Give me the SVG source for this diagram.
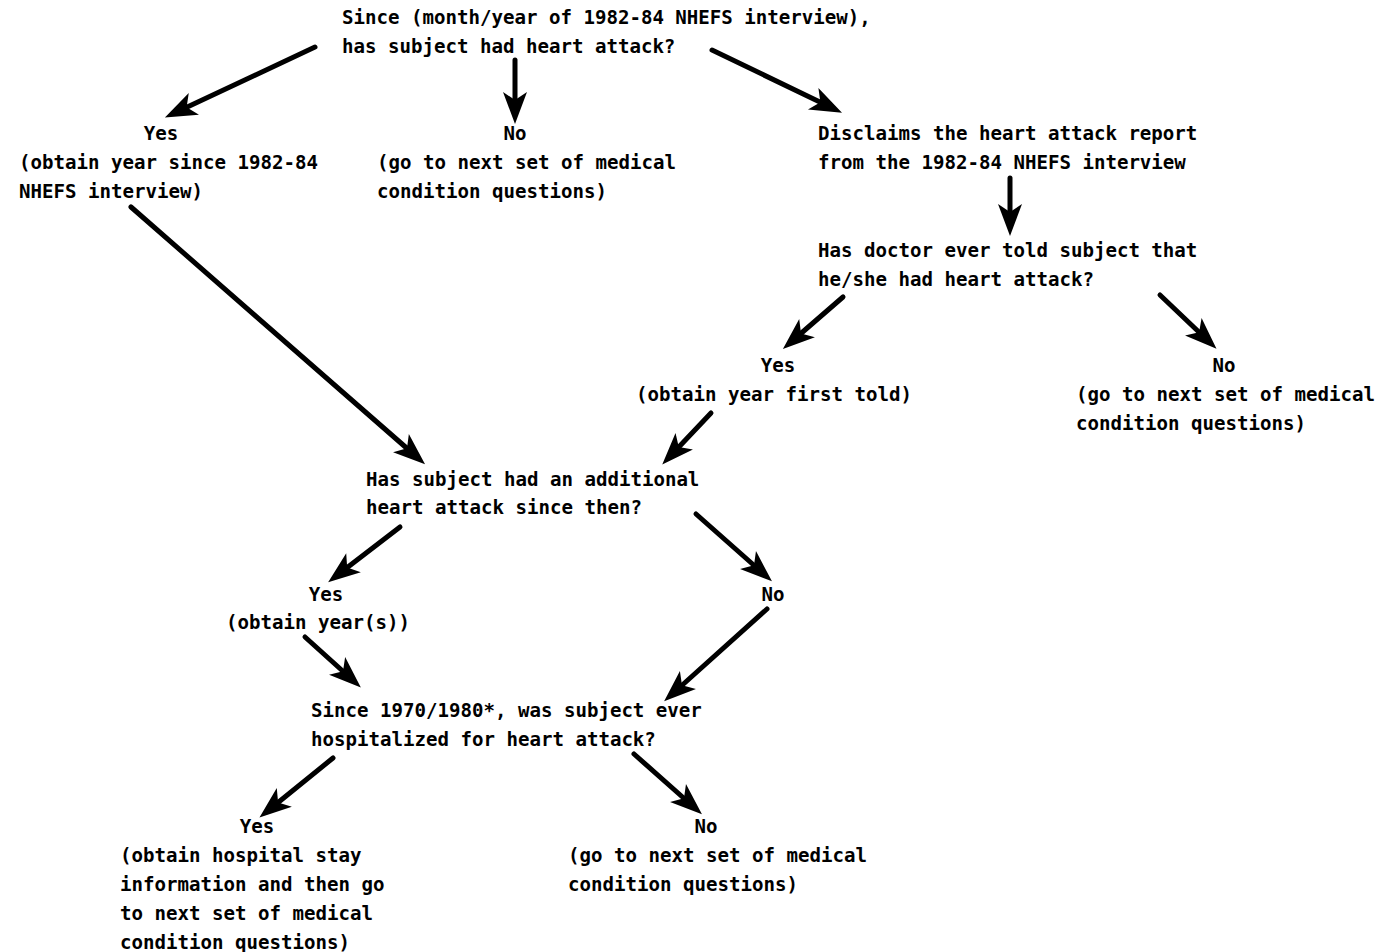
<svg xmlns="http://www.w3.org/2000/svg" width="1378" height="952" viewBox="0 0 1378 952">
<style>
text{font-family:"DejaVu Sans Mono","Liberation Mono",monospace;font-weight:bold;font-size:19.1px;fill:#000;}
.c{text-anchor:middle;}
.ln{stroke:#000;stroke-width:5;fill:none;stroke-linecap:round;marker-end:url(#ah);}
</style>
<defs>
<marker id="ah" markerUnits="userSpaceOnUse" markerWidth="40" markerHeight="40" viewBox="-12 -12 30 24" refX="0" refY="0" orient="auto" overflow="visible">
<path d="M15,0 L-9,-9 L-3,0 L-9,9 Z" fill="#000"/>
</marker>
</defs>
<rect width="1378" height="952" fill="#fff"/>
<g id="q1">
<text x="342" y="24">Since (month/year of 1982-84 NHEFS interview),</text>
<text x="342" y="53">has subject had heart attack?</text>
</g>
<g id="yes1">
<text class="c" x="161" y="140">Yes</text>
<text x="19" y="169">(obtain year since 1982-84</text>
<text x="19" y="198">NHEFS interview)</text>
</g>
<g id="no1">
<text class="c" x="515" y="140">No</text>
<text x="377" y="169">(go to next set of medical</text>
<text x="377" y="198">condition questions)</text>
</g>
<g id="disclaim">
<text x="818" y="140">Disclaims the heart attack report</text>
<text x="818" y="169">from the 1982-84 NHEFS interview</text>
</g>
<g id="q2">
<text x="818" y="257">Has doctor ever told subject that</text>
<text x="818" y="286">he/she had heart attack?</text>
</g>
<g id="yes2">
<text class="c" x="778" y="372">Yes</text>
<text x="636" y="401">(obtain year first told)</text>
</g>
<g id="no2">
<text class="c" x="1224" y="372">No</text>
<text x="1076" y="401">(go to next set of medical</text>
<text x="1076" y="430">condition questions)</text>
</g>
<g id="q3">
<text x="366" y="486">Has subject had an additional</text>
<text x="366" y="514">heart attack since then?</text>
</g>
<g id="yes3">
<text class="c" x="326" y="601">Yes</text>
<text x="226" y="629">(obtain year(s))</text>
</g>
<g id="no3">
<text class="c" x="773" y="601">No</text>
</g>
<g id="q4">
<text x="311" y="717">Since 1970/1980*, was subject ever</text>
<text x="311" y="746">hospitalized for heart attack?</text>
</g>
<g id="yes4">
<text class="c" x="257" y="833">Yes</text>
<text x="120" y="862">(obtain hospital stay</text>
<text x="120" y="891">information and then go</text>
<text x="120" y="920">to next set of medical</text>
<text x="120" y="949">condition questions)</text>
</g>
<g id="no4">
<text class="c" x="706" y="833">No</text>
<text x="568" y="862">(go to next set of medical</text>
<text x="568" y="891">condition questions)</text>
</g>
<g id="connectors">
<line class="ln" x1="315" y1="47" x2="183" y2="109"/>
<line class="ln" x1="515" y1="60" x2="515" y2="104"/>
<line class="ln" x1="712" y1="50" x2="824" y2="104"/>
<line class="ln" x1="1010" y1="178" x2="1010" y2="216"/>
<line class="ln" x1="843" y1="297" x2="798" y2="336"/>
<line class="ln" x1="1160" y1="295" x2="1202" y2="335"/>
<line class="ln" x1="131" y1="207" x2="410" y2="451"/>
<line class="ln" x1="711" y1="413" x2="676" y2="450"/>
<line class="ln" x1="400" y1="527" x2="344" y2="570"/>
<line class="ln" x1="696" y1="514" x2="757" y2="568"/>
<line class="ln" x1="767" y1="609" x2="679" y2="688"/>
<line class="ln" x1="305" y1="637" x2="346" y2="674"/>
<line class="ln" x1="333" y1="758" x2="275" y2="805"/>
<line class="ln" x1="634" y1="754" x2="687" y2="801"/>
</g>
</svg>
